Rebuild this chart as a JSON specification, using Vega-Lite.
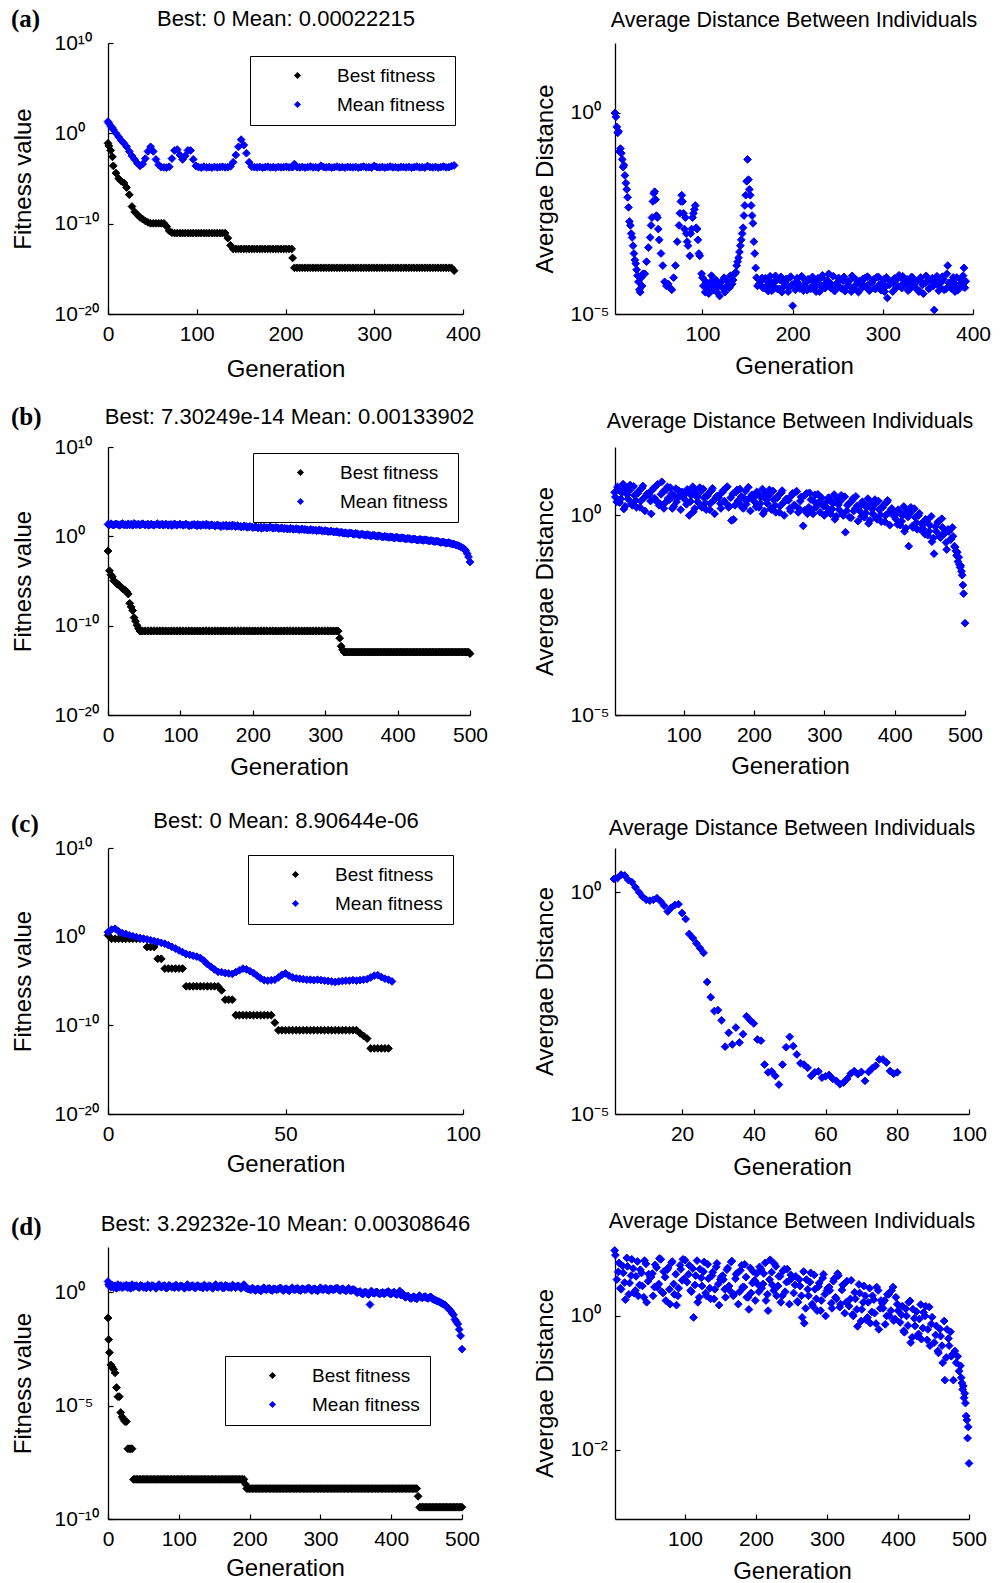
{
"$schema":"https://vega.github.io/schema/vega-lite/v6.json",
"background":"white",
"padding":{"left":11,"top":7,"right":5,"bottom":0},
"columns":2,
"bounds":"flush",
"spacing":{"row":133,"column":145},
"resolve":{"scale":{"color":"independent","stroke":"independent"}},
"datasets":{
"aL":[
{"g":0,"b":7.9e-2,"m":20},{"g":1,"b":4e-2,"m":13},{"g":3,"b":1.3e-2,"m":6.3},{"g":5,"b":2.5e-3,"m":4},{"g":6,"b":2.5e-4,"m":2.5},{"g":9,"b":4e-5,"m":1},{"g":12,"b":1e-5,"m":0.4},{"g":15,"b":5e-6,"m":0.16},{"g":18,"b":3.2e-6,"m":0.079},{"g":21,"b":1e-6,"m":0.032},{"g":24,"b":1.6e-7,"m":0.01},{"g":27,"b":7.9e-9,"m":0.0032},{"g":30,"b":2e-9,"m":0.0013},{"g":33,"b":1e-9,"m":5e-4},{"g":36,"b":5e-10,"m":2.5e-4},{"g":39,"b":3.2e-10,"m":4e-4},{"g":42,"b":2e-10,"m":1.6e-3},{"g":45,"b":1.4e-10,"m":0.01},{"g":48,"b":1.1e-10,"m":0.032},{"g":51,"b":1.1e-10,"m":0.01},{"g":54,"b":1.1e-10,"m":1.3e-3},{"g":57,"b":1.1e-10,"m":3.2e-4},{"g":60,"b":1.1e-10,"m":1.8e-4},{"g":63,"b":1.1e-10,"m":1.7e-4},{"g":66,"b":5e-11,"m":1.6e-4},{"g":69,"b":1.6e-11,"m":2e-4},{"g":72,"b":1e-11,"m":1.6e-3},{"g":75,"b":9e-12,"m":0.0126},{"g":78,"b":9e-12,"m":0.016},{"g":81,"b":9e-12,"m":0.004},{"g":84,"b":9e-12,"m":0.0013},{"g":87,"b":9e-12,"m":0.0032},{"g":90,"b":9e-12,"m":0.0126},{"g":93,"b":9e-12,"m":0.0126},{"g":96,"b":9e-12,"m":1.3e-3},{"g":99,"b":9e-12,"m":2.5e-4},{"g":102,"b":9e-12,"m":1.8e-4},{"g":105,"b":9e-12,"m":1.6e-4},{"g":108,"b":9e-12,"m":2e-4},{"g":111,"b":9e-12,"m":1.7e-4},{"g":114,"b":9e-12,"m":1.8e-4},{"g":117,"b":9e-12,"m":1.6e-4},{"g":120,"b":9e-12,"m":1.9e-4},{"g":123,"b":9e-12,"m":1.7e-4},{"g":126,"b":9e-12,"m":1.8e-4},{"g":129,"b":9e-12,"m":2e-4},{"g":132,"b":9e-12,"m":1.7e-4},{"g":135,"b":2.5e-12,"m":1.8e-4},{"g":138,"b":4e-13,"m":2.2e-4},{"g":141,"b":1.6e-13,"m":6.3e-4},{"g":144,"b":1.6e-13,"m":4e-3},{"g":147,"b":1.6e-13,"m":0.032},{"g":150,"b":1.6e-13,"m":0.2},{"g":153,"b":1.6e-13,"m":0.05},{"g":156,"b":1.6e-13,"m":0.0063},{"g":159,"b":1.6e-13,"m":6.3e-4},{"g":162,"b":1.6e-13,"m":2e-4},{"g":165,"b":1.6e-13,"m":1.8e-4},{"g":168,"b":1.6e-13,"m":1.7e-4},{"g":171,"b":1.6e-13,"m":1.9e-4},{"g":174,"b":1.6e-13,"m":1.6e-4},{"g":177,"b":1.6e-13,"m":1.8e-4},{"g":180,"b":1.6e-13,"m":2e-4},{"g":183,"b":1.6e-13,"m":1.7e-4},{"g":186,"b":1.6e-13,"m":1.8e-4},{"g":189,"b":1.6e-13,"m":1.6e-4},{"g":192,"b":1.6e-13,"m":1.9e-4},{"g":195,"b":1.6e-13,"m":1.7e-4},{"g":198,"b":1.6e-13,"m":1.8e-4},{"g":201,"b":1.6e-13,"m":2e-4},{"g":204,"b":1.6e-13,"m":1.7e-4},{"g":207,"b":1.6e-13,"m":1.8e-4},{"g":208,"b":1.6e-14,"m":1.8e-4},{"g":210,"b":1.3e-15,"m":4e-4},{"g":213,"b":1.3e-15,"m":1.8e-4},{"g":216,"b":1.3e-15,"m":1.7e-4},{"g":219,"b":1.3e-15,"m":1.9e-4},{"g":222,"b":1.3e-15,"m":1.6e-4},{"g":225,"b":1.3e-15,"m":1.8e-4},{"g":228,"b":1.3e-15,"m":2.1e-4},{"g":231,"b":1.3e-15,"m":1.7e-4},{"g":234,"b":1.3e-15,"m":1.8e-4},{"g":237,"b":1.3e-15,"m":1.6e-4},{"g":240,"b":1.3e-15,"m":2.6e-4},{"g":243,"b":1.3e-15,"m":1.8e-4},{"g":246,"b":1.3e-15,"m":1.7e-4},{"g":249,"b":1.3e-15,"m":1.9e-4},{"g":252,"b":1.3e-15,"m":1.6e-4},{"g":255,"b":1.3e-15,"m":1.8e-4},{"g":258,"b":1.3e-15,"m":2.1e-4},{"g":261,"b":1.3e-15,"m":1.7e-4},{"g":264,"b":1.3e-15,"m":1.8e-4},{"g":267,"b":1.3e-15,"m":1.6e-4},{"g":270,"b":1.3e-15,"m":1.9e-4},{"g":273,"b":1.3e-15,"m":1.8e-4},{"g":276,"b":1.3e-15,"m":1.7e-4},{"g":279,"b":1.3e-15,"m":1.9e-4},{"g":282,"b":1.3e-15,"m":1.6e-4},{"g":285,"b":1.3e-15,"m":1.8e-4},{"g":288,"b":1.3e-15,"m":2.1e-4},{"g":291,"b":1.3e-15,"m":1.7e-4},{"g":294,"b":1.3e-15,"m":1.8e-4},{"g":297,"b":1.3e-15,"m":1.6e-4},{"g":300,"b":1.3e-15,"m":2.5e-4},{"g":303,"b":1.3e-15,"m":1.8e-4},{"g":306,"b":1.3e-15,"m":1.7e-4},{"g":309,"b":1.3e-15,"m":1.9e-4},{"g":312,"b":1.3e-15,"m":1.6e-4},{"g":315,"b":1.3e-15,"m":1.8e-4},{"g":318,"b":1.3e-15,"m":2.1e-4},{"g":321,"b":1.3e-15,"m":1.7e-4},{"g":324,"b":1.3e-15,"m":1.8e-4},{"g":327,"b":1.3e-15,"m":1.6e-4},{"g":330,"b":1.3e-15,"m":1.9e-4},{"g":333,"b":1.3e-15,"m":1.8e-4},{"g":336,"b":1.3e-15,"m":1.7e-4},{"g":339,"b":1.3e-15,"m":1.9e-4},{"g":342,"b":1.3e-15,"m":1.6e-4},{"g":345,"b":1.3e-15,"m":1.8e-4},{"g":348,"b":1.3e-15,"m":2.1e-4},{"g":351,"b":1.3e-15,"m":1.7e-4},{"g":354,"b":1.3e-15,"m":1.8e-4},{"g":357,"b":1.3e-15,"m":1.6e-4},{"g":360,"b":1.3e-15,"m":2.4e-4},{"g":363,"b":1.3e-15,"m":1.8e-4},{"g":366,"b":1.3e-15,"m":1.7e-4},{"g":369,"b":1.3e-15,"m":1.9e-4},{"g":372,"b":1.3e-15,"m":1.6e-4},{"g":375,"b":1.3e-15,"m":1.8e-4},{"g":378,"b":1.3e-15,"m":2.1e-4},{"g":381,"b":1.3e-15,"m":1.7e-4},{"g":384,"b":1.3e-15,"m":1.8e-4},{"g":387,"b":1.3e-15,"m":2.3e-4},{"g":390,"b":6.3e-16,"m":2.8e-4}
],
"aR":[
{"g":3,"v":1.0},{"g":4,"v":0.8},{"g":5,"v":0.45},{"g":6,"v":0.32},{"g":7,"v":0.35},{"g":8,"v":0.11},{"g":9,"v":0.13},{"g":10,"v":0.1},{"g":11,"v":0.07},{"g":12,"v":0.045},{"g":13,"v":0.05},{"g":14,"v":0.028},{"g":15,"v":0.018},{"g":16,"v":0.0126},{"g":17,"v":0.008},{"g":18,"v":0.0045},{"g":19,"v":0.002},{"g":20,"v":0.0016},{"g":21,"v":0.001},{"g":22,"v":8e-4},{"g":23,"v":5e-4},{"g":24,"v":3.2e-4},{"g":25,"v":2.2e-4},{"g":26,"v":1.8e-4},{"g":27,"v":1.26e-4},{"g":28,"v":9e-5},{"g":29,"v":6.3e-5},{"g":30,"v":4e-5},{"g":31,"v":3.5e-5},{"g":32,"v":8e-5},{"g":33,"v":5e-5},{"g":34,"v":1e-4},{"g":36,"v":1e-4},{"g":38,"v":2e-4},{"g":40,"v":4.5e-4},{"g":42,"v":8e-4},{"g":43,"v":1.6e-3},{"g":44,"v":2.5e-3},{"g":45,"v":6.3e-3},{"g":46,"v":0.01},{"g":47,"v":0.011},{"g":48,"v":0.007},{"g":49,"v":0.0028},{"g":50,"v":0.0025},{"g":51,"v":0.0013},{"g":52,"v":7e-4},{"g":54,"v":3.2e-4},{"g":56,"v":1.6e-4},{"g":58,"v":6.3e-5},{"g":60,"v":5e-5},{"g":62,"v":5.6e-5},{"g":64,"v":4.5e-5},{"g":66,"v":4e-5},{"g":68,"v":8e-5},{"g":70,"v":1.6e-4},{"g":72,"v":6.3e-4},{"g":74,"v":1.6e-3},{"g":75,"v":3.2e-3},{"g":76,"v":6.3e-3},{"g":77,"v":0.009},{"g":78,"v":0.0063},{"g":79,"v":0.0032},{"g":80,"v":0.0013},{"g":81,"v":0.0025},{"g":82,"v":0.001},{"g":83,"v":6.3e-4},{"g":84,"v":5e-4},{"g":86,"v":2.8e-4},{"g":87,"v":0.001},{"g":88,"v":0.0013},{"g":89,"v":0.0025},{"g":90,"v":0.0032},{"g":91,"v":0.004},{"g":92,"v":0.005},{"g":93,"v":0.0014},{"g":94,"v":0.0013},{"g":95,"v":7e-4},{"g":96,"v":3.2e-4},{"g":97,"v":2.8e-4},{"g":99,"v":1e-4},{"g":100,"v":8e-5},{"g":101,"v":5e-5},{"g":103,"v":3.5e-5},{"g":104,"v":6.3e-5},{"g":106,"v":4.5e-5},{"g":107,"v":3.2e-5},{"g":109,"v":6.3e-5},{"g":110,"v":9e-5},{"g":112,"v":4e-5},{"g":113,"v":5e-5},{"g":115,"v":7e-5},{"g":116,"v":3.5e-5},{"g":118,"v":5e-5},{"g":119,"v":2.8e-5},{"g":121,"v":6.3e-5},{"g":122,"v":4.5e-5},{"g":124,"v":8e-5},{"g":125,"v":3.5e-5},{"g":127,"v":5e-5},{"g":128,"v":6.3e-5},{"g":130,"v":4.5e-5},{"g":131,"v":9e-5},{"g":133,"v":5.6e-5},{"g":134,"v":7e-5},{"g":136,"v":1e-4},{"g":137,"v":1.1e-4},{"g":138,"v":1.6e-4},{"g":139,"v":2e-4},{"g":140,"v":2.5e-4},{"g":141,"v":3.5e-4},{"g":142,"v":5e-4},{"g":143,"v":7e-4},{"g":144,"v":0.001},{"g":145,"v":0.0014},{"g":146,"v":0.0028},{"g":147,"v":0.005},{"g":148,"v":0.009},{"g":149,"v":0.02},{"g":150,"v":0.07},{"g":151,"v":0.022},{"g":152,"v":0.0126},{"g":153,"v":0.009},{"g":154,"v":0.005},{"g":155,"v":0.0028},{"g":156,"v":0.0018},{"g":157,"v":6.3e-4},{"g":158,"v":3.2e-4},{"g":159,"v":1.4e-4},{"g":160,"v":8e-5},{"g":161,"v":5e-5},
{"g":163,"v":5.6e-5},{"g":166,"v":7.9e-5},{"g":168,"v":4.5e-5},{"g":171,"v":6.7e-5},{"g":173,"v":3.7e-5},{"g":176,"v":6.3e-5},{"g":178,"v":5e-5},{"g":181,"v":8.9e-5},{"g":183,"v":4.2e-5},{"g":186,"v":7e-5},{"g":188,"v":3.5e-5},{"g":191,"v":5.9e-5},{"g":193,"v":7.5e-5},{"g":196,"v":4.7e-5},{"g":198,"v":8.5e-5},{"g":200,"v":1.6e-5},{"g":203,"v":4e-5},{"g":206,"v":6e-5},{"g":208,"v":4.3e-5},{"g":211,"v":8.1e-5},{"g":213,"v":5.3e-5},{"g":216,"v":3.9e-5},{"g":218,"v":7.2e-5},{"g":221,"v":4.8e-5},{"g":223,"v":6.5e-5},{"g":226,"v":3.6e-5},{"g":228,"v":7.7e-5},{"g":231,"v":5.1e-5},{"g":233,"v":9.2e-5},{"g":236,"v":4.4e-5},{"g":238,"v":6.9e-5},{"g":240,"v":1e-4},{"g":243,"v":5.5e-5},{"g":246,"v":3.8e-5},{"g":248,"v":5.6e-5},{"g":251,"v":7.9e-5},{"g":253,"v":4.5e-5},{"g":256,"v":6.7e-5},{"g":258,"v":3.7e-5},{"g":261,"v":6.3e-5},{"g":263,"v":5e-5},{"g":266,"v":8.9e-5},{"g":268,"v":4.2e-5},{"g":271,"v":7e-5},{"g":273,"v":3.5e-5},{"g":276,"v":5.9e-5},{"g":278,"v":7.5e-5},{"g":281,"v":4.7e-5},{"g":283,"v":8.5e-5},{"g":286,"v":4e-5},{"g":288,"v":6e-5},{"g":291,"v":4.3e-5},{"g":293,"v":8.1e-5},{"g":296,"v":5.3e-5},{"g":298,"v":3.9e-5},{"g":301,"v":7.2e-5},{"g":303,"v":4.8e-5},{"g":305,"v":2.5e-5},{"g":308,"v":6.5e-5},{"g":311,"v":3.6e-5},{"g":313,"v":7.7e-5},{"g":316,"v":5.1e-5},{"g":318,"v":9.2e-5},{"g":321,"v":4.4e-5},{"g":323,"v":6.9e-5},{"g":326,"v":5.5e-5},{"g":328,"v":3.8e-5},{"g":331,"v":5.6e-5},{"g":333,"v":7.9e-5},{"g":336,"v":4.5e-5},{"g":338,"v":6.7e-5},{"g":341,"v":3.7e-5},{"g":343,"v":6.3e-5},{"g":345,"v":3.2e-5},{"g":348,"v":8.9e-5},{"g":351,"v":4.2e-5},{"g":353,"v":7e-5},{"g":357,"v":1.26e-5},{"g":358,"v":5.9e-5},{"g":361,"v":7.5e-5},{"g":363,"v":4.7e-5},{"g":366,"v":8.5e-5},{"g":368,"v":4e-5},{"g":372,"v":1.6e-4},{"g":373,"v":6e-5},{"g":376,"v":4.3e-5},{"g":378,"v":8.1e-5},{"g":381,"v":5.3e-5},{"g":383,"v":3.9e-5},{"g":386,"v":7.2e-5},{"g":388,"v":4.8e-5},{"g":390,"v":1.4e-4},{"g":392,"v":6.5e-5},
{"g":165,"v":6.7e-5},{"g":167,"v":4.5e-5},{"g":170,"v":7.8e-5},{"g":172,"v":5e-5},{"g":175,"v":8.7e-5},{"g":177,"v":3.8e-5},{"g":180,"v":6.2e-5},{"g":182,"v":7.3e-5},{"g":185,"v":4.2e-5},{"g":187,"v":8.4e-5},{"g":190,"v":4.8e-5},{"g":192,"v":6.4e-5},{"g":195,"v":3.6e-5},{"g":197,"v":8.1e-5},{"g":199,"v":5.3e-5},{"g":202,"v":5.9e-5},{"g":205,"v":7.8e-5},{"g":207,"v":5e-5},{"g":210,"v":8.7e-5},{"g":212,"v":3.8e-5},{"g":215,"v":6.2e-5},{"g":217,"v":7.3e-5},{"g":220,"v":4.2e-5},{"g":222,"v":8.4e-5},{"g":225,"v":4.8e-5},{"g":227,"v":6.4e-5},{"g":230,"v":3.6e-5},{"g":232,"v":8.1e-5},{"g":235,"v":5.3e-5},{"g":237,"v":5.9e-5},{"g":239,"v":6.7e-5},{"g":242,"v":4.5e-5},{"g":245,"v":8.7e-5},{"g":247,"v":3.8e-5},{"g":250,"v":6.2e-5},{"g":252,"v":7.3e-5},{"g":255,"v":4.2e-5},{"g":257,"v":8.4e-5},{"g":260,"v":4.8e-5},{"g":262,"v":6.4e-5},{"g":265,"v":3.6e-5},{"g":267,"v":8.1e-5},{"g":270,"v":5.3e-5},{"g":272,"v":5.9e-5},{"g":275,"v":6.7e-5},{"g":277,"v":4.5e-5},{"g":280,"v":7.8e-5},{"g":282,"v":5e-5},{"g":285,"v":3.8e-5},{"g":287,"v":6.2e-5},{"g":290,"v":7.3e-5},{"g":292,"v":4.2e-5},{"g":295,"v":8.4e-5},{"g":297,"v":4.8e-5},{"g":300,"v":6.4e-5},{"g":302,"v":3.6e-5},{"g":304,"v":8.1e-5},{"g":307,"v":5.3e-5},{"g":310,"v":5.9e-5},{"g":312,"v":6.7e-5},{"g":315,"v":4.5e-5},{"g":317,"v":7.8e-5},{"g":320,"v":5e-5},{"g":322,"v":8.7e-5},{"g":325,"v":6.2e-5},{"g":327,"v":7.3e-5},{"g":330,"v":4.2e-5},{"g":332,"v":8.4e-5},{"g":335,"v":4.8e-5},{"g":337,"v":6.4e-5},{"g":340,"v":3.6e-5},{"g":342,"v":8.1e-5},{"g":344,"v":5.3e-5},{"g":347,"v":5.9e-5},{"g":350,"v":6.7e-5},{"g":352,"v":4.5e-5},{"g":355,"v":7.8e-5},{"g":356,"v":5e-5},{"g":360,"v":8.7e-5},{"g":362,"v":3.8e-5},{"g":365,"v":6.2e-5},{"g":367,"v":7.3e-5},{"g":370,"v":4.2e-5},{"g":371,"v":1e-4},{"g":375,"v":4.8e-5},{"g":377,"v":6.4e-5},{"g":380,"v":3.6e-5},{"g":382,"v":8.1e-5},{"g":385,"v":5.3e-5},{"g":387,"v":5.9e-5},{"g":389,"v":9e-5},{"g":391,"v":4.5e-5}
],
"bL":[
{"g":0,"b":0.023,"m":22},{"g":2,"b":1.4e-4,"m":19},{"g":4,"b":5e-5,"m":26},{"g":6,"b":3e-5,"m":20},{"g":8,"b":1.1e-5,"m":18},{"g":10,"b":8e-6,"m":23},{"g":12,"b":5e-6,"m":24},{"g":14,"b":4e-6,"m":20},{"g":16,"b":3.2e-6,"m":17},{"g":18,"b":2e-6,"m":22},{"g":20,"b":1.4e-6,"m":27},{"g":22,"b":1.1e-6,"m":19},{"g":24,"b":9e-7,"m":21},{"g":26,"b":6e-7,"m":18},{"g":28,"b":3.5e-7,"m":25},{"g":30,"b":3.2e-8,"m":19},{"g":32,"b":1.26e-8,"m":23},{"g":34,"b":5e-9,"m":17},{"g":36,"b":8e-10,"m":28},{"g":38,"b":3.2e-10,"m":21},{"g":40,"b":1.1e-10,"m":20},{"g":42,"b":5e-11,"m":24},{"g":44,"b":2.5e-11,"m":18},{"g":46,"b":2.5e-11,"m":22},{"g":48,"b":2.5e-11,"m":26},{"g":51,"b":2.5e-11,"m":19},{"g":52,"b":2.5e-11,"m":20},{"g":55,"b":2.5e-11,"m":24},{"g":56,"b":2.5e-11,"m":17},{"g":59,"b":2.5e-11,"m":21},{"g":60,"b":2.5e-11,"m":23},{"g":63,"b":2.5e-11,"m":17},{"g":64,"b":2.5e-11,"m":19},{"g":67,"b":2.5e-11,"m":22},{"g":68,"b":2.5e-11,"m":27},{"g":71,"b":2.5e-11,"m":18},{"g":72,"b":2.5e-11,"m":21},{"g":75,"b":2.5e-11,"m":24},{"g":76,"b":2.5e-11,"m":18},{"g":79,"b":2.5e-11,"m":20},{"g":80,"b":2.5e-11,"m":24},{"g":83,"b":2.5e-11,"m":17},{"g":84,"b":2.5e-11,"m":20},{"g":87,"b":2.5e-11,"m":22},{"g":88,"b":2.5e-11,"m":16},{"g":91,"b":2.5e-11,"m":20},{"g":92,"b":2.5e-11,"m":25},{"g":95,"b":2.5e-11,"m":17},{"g":96,"b":2.5e-11,"m":19},{"g":99,"b":2.5e-11,"m":23},{"g":100,"b":2.5e-11,"m":21},{"g":103,"b":2.5e-11,"m":19},{"g":104,"b":2.5e-11,"m":17},{"g":107,"b":2.5e-11,"m":21},{"g":108,"b":2.5e-11,"m":23},{"g":111,"b":2.5e-11,"m":18},{"g":112,"b":2.5e-11,"m":15},{"g":115,"b":2.5e-11,"m":17},{"g":116,"b":2.5e-11,"m":20},{"g":119,"b":2.5e-11,"m":22},{"g":120,"b":2.5e-11,"m":18},{"g":123,"b":2.5e-11,"m":15},{"g":124,"b":2.5e-11,"m":22},{"g":127,"b":2.5e-11,"m":19},{"g":128,"b":2.5e-11,"m":16},{"g":131,"b":2.5e-11,"m":21},{"g":132,"b":2.5e-11,"m":19},{"g":135,"b":2.5e-11,"m":17},{"g":136,"b":2.5e-11,"m":24},{"g":139,"b":2.5e-11,"m":18},{"g":140,"b":2.5e-11,"m":15},{"g":143,"b":2.5e-11,"m":20},{"g":144,"b":2.5e-11,"m":18},{"g":147,"b":2.5e-11,"m":16},{"g":148,"b":2.5e-11,"m":14},{"g":151,"b":2.5e-11,"m":19},{"g":152,"b":2.5e-11,"m":17},{"g":155,"b":2.5e-11,"m":15},{"g":156,"b":2.5e-11,"m":12},{"g":159,"b":2.5e-11,"m":17},{"g":160,"b":2.5e-11,"m":15},{"g":163,"b":2.5e-11,"m":18},{"g":164,"b":2.5e-11,"m":13},{"g":167,"b":2.5e-11,"m":14},{"g":168,"b":2.5e-11,"m":16},{"g":171,"b":2.5e-11,"m":13},{"g":172,"b":2.5e-11,"m":19},{"g":175,"b":2.5e-11,"m":15},{"g":176,"b":2.5e-11,"m":12},{"g":179,"b":2.5e-11,"m":16},{"g":180,"b":2.5e-11,"m":14},{"g":183,"b":2.5e-11,"m":13},{"g":184,"b":2.5e-11,"m":11},{"g":187,"b":2.5e-11,"m":12},{"g":188,"b":2.5e-11,"m":15},{"g":191,"b":2.5e-11,"m":13},{"g":192,"b":2.5e-11,"m":10},{"g":195,"b":2.5e-11,"m":11},{"g":196,"b":2.5e-11,"m":13},{"g":199,"b":2.5e-11,"m":11},{"g":200,"b":2.5e-11,"m":9.5},{"g":203,"b":2.5e-11,"m":10.5},{"g":204,"b":2.5e-11,"m":12},{"g":207,"b":2.5e-11,"m":9},{"g":208,"b":2.5e-11,"m":10},{"g":211,"b":2.5e-11,"m":11},{"g":212,"b":2.5e-11,"m":8},{"g":215,"b":2.5e-11,"m":9.5},{"g":216,"b":2.5e-11,"m":11},{"g":219,"b":2.5e-11,"m":8.5},{"g":220,"b":2.5e-11,"m":9},{"g":223,"b":2.5e-11,"m":10},{"g":224,"b":2.5e-11,"m":12},{"g":227,"b":2.5e-11,"m":9},{"g":228,"b":2.5e-11,"m":8},{"g":231,"b":2.5e-11,"m":9},{"g":232,"b":2.5e-11,"m":10},{"g":235,"b":2.5e-11,"m":8.5},{"g":236,"b":2.5e-11,"m":7.5},{"g":239,"b":2.5e-11,"m":8},{"g":240,"b":2.5e-11,"m":9},{"g":243,"b":2.5e-11,"m":7},{"g":244,"b":2.5e-11,"m":8},{"g":247,"b":2.5e-11,"m":7.5},{"g":248,"b":2.5e-11,"m":6.5},{"g":251,"b":2.5e-11,"m":7},{"g":252,"b":2.5e-11,"m":8},{"g":255,"b":2.5e-11,"m":7},{"g":256,"b":2.5e-11,"m":6},{"g":259,"b":2.5e-11,"m":6.5},{"g":260,"b":2.5e-11,"m":7.5},{"g":263,"b":2.5e-11,"m":6.5},{"g":264,"b":2.5e-11,"m":5.5},{"g":267,"b":2.5e-11,"m":6},{"g":268,"b":2.5e-11,"m":7},{"g":271,"b":2.5e-11,"m":5.5},{"g":272,"b":2.5e-11,"m":6},{"g":275,"b":2.5e-11,"m":5.2},{"g":276,"b":2.5e-11,"m":4.8},{"g":279,"b":2.5e-11,"m":5.3},{"g":280,"b":2.5e-11,"m":6},{"g":283,"b":2.5e-11,"m":4.6},{"g":284,"b":2.5e-11,"m":5},{"g":287,"b":2.5e-11,"m":5},{"g":288,"b":2.5e-11,"m":4.2},{"g":291,"b":2.5e-11,"m":4.6},{"g":292,"b":2.5e-11,"m":5.2},{"g":295,"b":2.5e-11,"m":4.5},{"g":296,"b":2.5e-11,"m":4},{"g":299,"b":2.5e-11,"m":3.8},{"g":300,"b":2.5e-11,"m":4.5},{"g":303,"b":2.5e-11,"m":3.8},{"g":304,"b":2.5e-11,"m":3.4},{"g":307,"b":2.5e-11,"m":3.5},{"g":308,"b":2.5e-11,"m":4},{"g":311,"b":2.5e-11,"m":3.3},{"g":312,"b":2.5e-11,"m":3},{"g":315,"b":2.5e-11,"m":3.1},{"g":316,"b":2.5e-11,"m":3.5},{"g":318,"b":2.5e-11,"m":2.8},{"g":320,"b":4e-12,"m":2.6},{"g":322,"b":5e-13,"m":3},{"g":324,"b":2e-13,"m":2.4},{"g":326,"b":1.1e-13,"m":2.2},{"g":328,"b":1.1e-13,"m":2.6},{"g":330,"b":1.1e-13,"m":2.1},{"g":332,"b":1.1e-13,"m":2},{"g":334,"b":1.1e-13,"m":2.4},{"g":336,"b":1.1e-13,"m":2.3},{"g":338,"b":1.1e-13,"m":1.9},{"g":340,"b":1.1e-13,"m":1.7},{"g":342,"b":1.1e-13,"m":2.1},{"g":344,"b":1.1e-13,"m":2},{"g":346,"b":1.1e-13,"m":1.6},{"g":348,"b":1.1e-13,"m":1.5},{"g":350,"b":1.1e-13,"m":1.8},{"g":352,"b":1.1e-13,"m":1.7},{"g":354,"b":1.1e-13,"m":1.4},{"g":356,"b":1.1e-13,"m":1.3},{"g":358,"b":1.1e-13,"m":1.6},{"g":360,"b":1.1e-13,"m":1.5},{"g":362,"b":1.1e-13,"m":1.2},{"g":364,"b":1.1e-13,"m":1.1},{"g":366,"b":1.1e-13,"m":1.35},{"g":368,"b":1.1e-13,"m":1.3},{"g":370,"b":1.1e-13,"m":1.05},{"g":372,"b":1.1e-13,"m":1.0},{"g":374,"b":1.1e-13,"m":1.2},{"g":376,"b":1.1e-13,"m":1.1},{"g":378,"b":1.1e-13,"m":0.9},{"g":380,"b":1.1e-13,"m":0.85},{"g":382,"b":1.1e-13,"m":1.0},{"g":384,"b":1.1e-13,"m":0.95},{"g":386,"b":1.1e-13,"m":0.8},{"g":388,"b":1.1e-13,"m":0.75},{"g":390,"b":1.1e-13,"m":0.9},{"g":392,"b":1.1e-13,"m":0.85},{"g":394,"b":1.1e-13,"m":0.7},{"g":396,"b":1.1e-13,"m":0.65},{"g":398,"b":1.1e-13,"m":0.8},{"g":400,"b":1.1e-13,"m":0.75},{"g":402,"b":1.1e-13,"m":0.62},{"g":404,"b":1.1e-13,"m":0.6},{"g":406,"b":1.1e-13,"m":0.7},{"g":408,"b":1.1e-13,"m":0.68},{"g":410,"b":1.1e-13,"m":0.55},{"g":412,"b":1.1e-13,"m":0.5},{"g":414,"b":1.1e-13,"m":0.6},{"g":416,"b":1.1e-13,"m":0.58},{"g":418,"b":1.1e-13,"m":0.47},{"g":420,"b":1.1e-13,"m":0.45},{"g":422,"b":1.1e-13,"m":0.52},{"g":424,"b":1.1e-13,"m":0.5},{"g":426,"b":1.1e-13,"m":0.4},{"g":428,"b":1.1e-13,"m":0.38},{"g":430,"b":1.1e-13,"m":0.46},{"g":432,"b":1.1e-13,"m":0.44},{"g":434,"b":1.1e-13,"m":0.37},{"g":436,"b":1.1e-13,"m":0.36},{"g":438,"b":1.1e-13,"m":0.42},{"g":440,"b":1.1e-13,"m":0.4},{"g":442,"b":1.1e-13,"m":0.33},{"g":444,"b":1.1e-13,"m":0.3},{"g":446,"b":1.1e-13,"m":0.35},{"g":448,"b":1.1e-13,"m":0.32},{"g":450,"b":1.1e-13,"m":0.27},{"g":452,"b":1.1e-13,"m":0.26},{"g":454,"b":1.1e-13,"m":0.3},{"g":456,"b":1.1e-13,"m":0.28},{"g":458,"b":1.1e-13,"m":0.22},{"g":460,"b":1.1e-13,"m":0.2},{"g":462,"b":1.1e-13,"m":0.24},{"g":464,"b":1.1e-13,"m":0.22},{"g":466,"b":1.1e-13,"m":0.18},{"g":468,"b":1.1e-13,"m":0.17},{"g":470,"b":1.1e-13,"m":0.2},{"g":472,"b":1.1e-13,"m":0.18},{"g":474,"b":1.1e-13,"m":0.15},{"g":476,"b":1.1e-13,"m":0.13},{"g":478,"b":1.1e-13,"m":0.14},{"g":480,"b":1.1e-13,"m":0.11},{"g":482,"b":1.1e-13,"m":0.1},{"g":484,"b":1.1e-13,"m":0.09},{"g":486,"b":1.1e-13,"m":0.075},{"g":488,"b":1.1e-13,"m":0.06},{"g":490,"b":1.1e-13,"m":0.05},{"g":492,"b":1.1e-13,"m":0.04},{"g":494,"b":1.1e-13,"m":0.025},{"g":496,"b":1.1e-13,"m":0.012},{"g":498,"b":1.1e-13,"m":0.005},{"g":500,"b":7.3e-14,"m":0.00134}
],
"bR":[
{"g":3,"v":2.9},{"g":6,"v":5.2},{"g":9,"v":2.1},{"g":12,"v":3.7},{"g":15,"v":1.45},{"g":18,"v":4.6},{"g":21,"v":2.6},{"g":24,"v":5.8},{"g":27,"v":1.8},{"g":30,"v":3.2},{"g":33,"v":1.6},{"g":36,"v":4.1},{"g":39,"v":2.3},{"g":42,"v":5.5},{"g":45,"v":1.3},{"g":48,"v":3.5},{"g":51,"v":3.3},{"g":54,"v":1.1},{"g":57,"v":4.8},{"g":60,"v":2.4},{"g":63,"v":6.0},{"g":66,"v":2.0},{"g":69,"v":7.0},{"g":72,"v":1.5},{"g":75,"v":4.4},{"g":78,"v":2.7},{"g":81,"v":5.0},{"g":84,"v":1.5},{"g":87,"v":3.1},{"g":90,"v":2.2},{"g":93,"v":4.2},{"g":96,"v":1.4},{"g":99,"v":3.0},
{"g":102,"v":2.5},{"g":105,"v":4.5},{"g":108,"v":1.0},{"g":111,"v":3.2},{"g":114,"v":1.25},{"g":117,"v":4},{"g":120,"v":2.2},{"g":123,"v":5},{"g":126,"v":1.6},{"g":129,"v":2.8},{"g":132,"v":1.4},{"g":135,"v":3.5},{"g":138,"v":2},{"g":141,"v":4.8},{"g":144,"v":1.1},{"g":147,"v":3},{"g":150,"v":2.8},{"g":153,"v":1.5},{"g":156,"v":4.2},{"g":159,"v":2.1},{"g":162,"v":5.3},{"g":165,"v":1.7},{"g":168,"v":0.75},{"g":171,"v":0.8},{"g":174,"v":3.8},{"g":177,"v":2.3},{"g":180,"v":4.6},{"g":183,"v":1.6},{"g":186,"v":2.7},{"g":189,"v":1.9},{"g":192,"v":5.1},{"g":195,"v":1.3},{"g":198,"v":3.0},
{"g":201,"v":2.2},{"g":204,"v":3.9},{"g":207,"v":1.6},{"g":210,"v":2.8},{"g":213,"v":1.1},{"g":216,"v":3.5},{"g":219,"v":2},{"g":222,"v":4.4},{"g":225,"v":1.4},{"g":228,"v":2.5},{"g":231,"v":1.2},{"g":234,"v":3.1},{"g":237,"v":1.7},{"g":240,"v":4.2},{"g":243,"v":1},{"g":246,"v":2.6},{"g":249,"v":2.4},{"g":252,"v":1.3},{"g":255,"v":3.6},{"g":258,"v":1.8},{"g":261,"v":4.0},{"g":264,"v":1.5},{"g":267,"v":2.9},{"g":270,"v":0.55},{"g":273,"v":3.3},{"g":276,"v":1.1},{"g":279,"v":3.7},{"g":282,"v":1.4},{"g":285,"v":2.3},{"g":288,"v":1.6},{"g":291,"v":3.4},{"g":294,"v":1.2},{"g":297,"v":2.0},{"g":300,"v":1.0},
{"g":303,"v":1.6},{"g":306,"v":2.8},{"g":309,"v":1.1},{"g":312,"v":2},{"g":315,"v":0.8},{"g":318,"v":2.5},{"g":321,"v":1.4},{"g":324,"v":3.2},{"g":327,"v":1.0},{"g":330,"v":0.38},{"g":333,"v":1.8},{"g":336,"v":0.9},{"g":339,"v":2.3},{"g":342,"v":1.3},{"g":345,"v":3.0},{"g":348,"v":0.72},
{"g":351,"v":1.26},{"g":354,"v":2.2},{"g":357,"v":0.9},{"g":360,"v":1.6},{"g":363,"v":0.63},{"g":366,"v":2.0},{"g":369,"v":1.1},{"g":372,"v":2.5},{"g":375,"v":0.8},{"g":378,"v":1.4},{"g":381,"v":0.7},{"g":384,"v":1.8},{"g":387,"v":1.0},{"g":390,"v":2.4},{"g":393,"v":0.57},{"g":396,"v":1.5},{"g":399,"v":0.95},
{"g":402,"v":0.8},{"g":405,"v":1.4},{"g":408,"v":0.57},{"g":411,"v":1.0},{"g":414,"v":0.4},{"g":417,"v":1.26},{"g":420,"v":0.17},{"g":423,"v":1.6},{"g":426,"v":0.5},{"g":429,"v":0.9},{"g":432,"v":0.45},{"g":435,"v":1.13},{"g":438,"v":0.63},
{"g":441,"v":0.45},{"g":444,"v":0.8},{"g":447,"v":0.32},{"g":450,"v":0.57},{"g":453,"v":0.22},{"g":456,"v":0.11},{"g":459,"v":0.4},{"g":462,"v":0.71},{"g":465,"v":0.28},{"g":468,"v":0.5},{"g":471,"v":0.35},{"g":474,"v":0.14},{"g":477,"v":0.4},{"g":480,"v":0.25},{"g":483,"v":0.3},{"g":486,"v":0.16},{"g":488,"v":0.1},{"g":489,"v":0.12},{"g":490,"v":0.07},{"g":491,"v":0.09},{"g":492,"v":0.06},{"g":493,"v":0.05},{"g":494,"v":0.055},{"g":495,"v":0.04},{"g":496,"v":0.032},{"g":497,"v":0.018},{"g":498,"v":0.011},{"g":500,"v":0.002},
{"g":2,"v":3.8},{"g":5,"v":2.2},{"g":8,"v":4.6},{"g":11,"v":2.6},{"g":14,"v":6.1},{"g":17,"v":1.7},{"g":20,"v":3.3},{"g":23,"v":4.2},{"g":26,"v":2.0},{"g":29,"v":5.4},{"g":32,"v":2.4},{"g":35,"v":3.6},{"g":38,"v":1.6},{"g":41,"v":4.9},{"g":44,"v":2.8},{"g":47,"v":3.2},{"g":50,"v":3.6},{"g":53,"v":2.3},{"g":56,"v":4.4},{"g":59,"v":2.7},{"g":62,"v":5.8},{"g":65,"v":1.8},{"g":68,"v":3.4},{"g":71,"v":4.0},{"g":74,"v":2.1},{"g":77,"v":5.2},{"g":80,"v":2.5},{"g":83,"v":3.5},{"g":86,"v":1.7},{"g":89,"v":4.7},{"g":92,"v":2.9},{"g":95,"v":3.1},{"g":98,"v":3.9},
{"g":101,"v":3.25},{"g":104,"v":1.9},{"g":107,"v":4.0},{"g":110,"v":2.25},{"g":113,"v":5.25},{"g":116,"v":1.5},{"g":119,"v":2.9},{"g":122,"v":3.6},{"g":125,"v":1.7},{"g":128,"v":4.6},{"g":131,"v":2.05},{"g":134,"v":3.1},{"g":137,"v":1.4},{"g":140,"v":4.25},{"g":143,"v":2.4},{"g":146,"v":2.75},{"g":149,"v":3.1},{"g":152,"v":2.0},{"g":155,"v":3.8},{"g":158,"v":2.3},{"g":161,"v":5.0},{"g":164,"v":1.6},{"g":167,"v":2.8},{"g":170,"v":3.5},{"g":173,"v":1.8},{"g":176,"v":4.4},{"g":179,"v":2.1},{"g":182,"v":3.0},{"g":185,"v":1.5},{"g":188,"v":4.1},{"g":191,"v":2.5},{"g":194,"v":2.7},{"g":197,"v":3.3},
{"g":200,"v":2.9},{"g":203,"v":1.65},{"g":206,"v":3.5},{"g":209,"v":2.0},{"g":212,"v":4.6},{"g":215,"v":1.3},{"g":218,"v":2.5},{"g":221,"v":3.2},{"g":224,"v":1.5},{"g":227,"v":4.1},{"g":230,"v":1.8},{"g":233,"v":2.75},{"g":236,"v":1.2},{"g":239,"v":3.7},{"g":242,"v":2.1},{"g":245,"v":2.4},{"g":248,"v":2.6},{"g":251,"v":1.5},{"g":254,"v":3.2},{"g":257,"v":1.8},{"g":260,"v":4.0},{"g":263,"v":1.2},{"g":266,"v":2.3},{"g":269,"v":2.9},{"g":272,"v":1.35},{"g":275,"v":3.6},{"g":278,"v":1.6},{"g":281,"v":2.5},{"g":284,"v":1.1},{"g":287,"v":3.3},{"g":290,"v":1.9},{"g":293,"v":2.2},{"g":296,"v":2.8},{"g":299,"v":1.7},
{"g":302,"v":2.1},{"g":305,"v":1.2},{"g":308,"v":2.55},{"g":311,"v":1.45},{"g":314,"v":3.35},{"g":317,"v":0.95},{"g":320,"v":1.85},{"g":323,"v":2.3},{"g":326,"v":1.1},{"g":329,"v":2.95},{"g":332,"v":1.3},{"g":335,"v":2.0},{"g":338,"v":0.88},{"g":341,"v":2.7},{"g":344,"v":1.5},{"g":347,"v":1.75},
{"g":350,"v":1.65},{"g":353,"v":0.95},{"g":356,"v":2.0},{"g":359,"v":1.15},{"g":362,"v":2.65},{"g":365,"v":0.75},{"g":368,"v":1.45},{"g":371,"v":1.8},{"g":374,"v":0.86},{"g":377,"v":2.3},{"g":380,"v":1.03},{"g":383,"v":1.6},{"g":386,"v":0.7},{"g":389,"v":2.15},{"g":392,"v":1.2},{"g":395,"v":1.4},{"g":398,"v":1.1},
{"g":401,"v":1.04},{"g":404,"v":0.6},{"g":407,"v":1.28},{"g":410,"v":0.72},{"g":413,"v":1.68},{"g":416,"v":0.48},{"g":419,"v":0.92},{"g":422,"v":1.16},{"g":425,"v":0.54},{"g":428,"v":1.48},{"g":431,"v":0.66},{"g":434,"v":1.0},{"g":437,"v":0.44},
{"g":440,"v":0.58},{"g":443,"v":0.34},{"g":446,"v":0.72},{"g":449,"v":0.4},{"g":452,"v":0.95},{"g":455,"v":0.27},{"g":458,"v":0.52},{"g":461,"v":0.65},{"g":464,"v":0.31},{"g":467,"v":0.83},{"g":470,"v":0.36},{"g":473,"v":0.21},{"g":476,"v":0.45},{"g":479,"v":0.25},{"g":482,"v":0.5},{"g":485,"v":0.17},{"g":487,"v":0.13}
],
"cL":[
{"g":0,"b":1.4,"m":3.2},{"g":1,"b":0.58,"m":6.3},{"g":2,"b":0.58,"m":7.9},{"g":3,"b":0.58,"m":4},{"g":4,"b":0.58,"m":2.5},{"g":5,"b":0.58,"m":2},{"g":6,"b":0.58,"m":1.4},{"g":7,"b":0.58,"m":1.12},{"g":8,"b":0.58,"m":0.89},{"g":9,"b":0.58,"m":0.71},{"g":10,"b":0.58,"m":0.56},{"g":11,"b":0.068,"m":0.5},{"g":12,"b":0.068,"m":0.4},{"g":13,"b":0.068,"m":0.32},{"g":14,"b":0.0032,"m":0.26},{"g":15,"b":0.0032,"m":0.2},{"g":16,"b":2.5e-4,"m":0.16},{"g":17,"b":2.5e-4,"m":0.11},{"g":18,"b":2.5e-4,"m":0.071},{"g":19,"b":2.5e-4,"m":0.045},{"g":20,"b":2.5e-4,"m":0.028},{"g":21,"b":2.5e-4,"m":0.018},{"g":22,"b":2.5e-6,"m":0.011},{"g":23,"b":2.5e-6,"m":0.0089},{"g":24,"b":2.5e-6,"m":0.0071},{"g":25,"b":2.5e-6,"m":0.0056},{"g":26,"b":2.5e-6,"m":0.004},{"g":27,"b":2.5e-6,"m":0.002},{"g":28,"b":2.5e-6,"m":7.9e-4},{"g":29,"b":2.5e-6,"m":4e-4},{"g":30,"b":2.5e-6,"m":2e-4},{"g":31,"b":2.5e-6,"m":1.1e-4},{"g":32,"b":8.9e-7,"m":1e-4},{"g":33,"b":7.9e-8,"m":7.9e-5},{"g":34,"b":7.9e-8,"m":7.1e-5},{"g":35,"b":7.9e-8,"m":6.3e-5},{"g":36,"b":1.4e-9,"m":1e-4},{"g":37,"b":1.4e-9,"m":1.6e-4},{"g":38,"b":1.4e-9,"m":2.5e-4},{"g":39,"b":1.4e-9,"m":2e-4},{"g":40,"b":1.4e-9,"m":1.26e-4},{"g":41,"b":1.4e-9,"m":7.9e-5},{"g":42,"b":1.4e-9,"m":4e-5},{"g":43,"b":1.4e-9,"m":2e-5},{"g":44,"b":1.4e-9,"m":1.26e-5},{"g":45,"b":1.4e-9,"m":1.1e-5},{"g":46,"b":1.4e-9,"m":1.26e-5},{"g":47,"b":2e-10,"m":1.4e-5},{"g":48,"b":2.8e-11,"m":2.5e-5},{"g":49,"b":2.8e-11,"m":5e-5},{"g":50,"b":2.8e-11,"m":7.1e-5},{"g":51,"b":2.8e-11,"m":4e-5},{"g":52,"b":2.8e-11,"m":2.5e-5},{"g":53,"b":2.8e-11,"m":2e-5},{"g":54,"b":2.8e-11,"m":1.8e-5},{"g":55,"b":2.8e-11,"m":1.6e-5},{"g":56,"b":2.8e-11,"m":1.4e-5},{"g":57,"b":2.8e-11,"m":1.4e-5},{"g":58,"b":2.8e-11,"m":1.26e-5},{"g":59,"b":2.8e-11,"m":1.4e-5},{"g":60,"b":2.8e-11,"m":1.26e-5},{"g":61,"b":2.8e-11,"m":1.1e-5},{"g":62,"b":2.8e-11,"m":1e-5},{"g":63,"b":2.8e-11,"m":8.9e-6},{"g":64,"b":2.8e-11,"m":7.9e-6},{"g":65,"b":2.8e-11,"m":8.9e-6},{"g":66,"b":2.8e-11,"m":1e-5},{"g":67,"b":2.8e-11,"m":1.1e-5},{"g":68,"b":2.8e-11,"m":1.1e-5},{"g":69,"b":2.8e-11,"m":1.26e-5},{"g":70,"b":2.8e-11,"m":1.1e-5},{"g":71,"b":1.26e-11,"m":1.26e-5},{"g":72,"b":6.3e-12,"m":1.4e-5},{"g":73,"b":3.2e-12,"m":1.6e-5},{"g":74,"b":2.5e-13,"m":2.5e-5},{"g":75,"b":2.5e-13,"m":4e-5},{"g":76,"b":2.5e-13,"m":4.5e-5},{"g":77,"b":2.5e-13,"m":2.8e-5},{"g":78,"b":2.5e-13,"m":1.8e-5},{"g":79,"b":2.5e-13,"m":1.4e-5},{"g":80,"m":8.9e-6}
],
"cR":[
{"g":1,"v":2},{"g":2,"v":2.1},{"g":3,"v":2.5},{"g":4,"v":2.4},{"g":5,"v":1.9},{"g":6,"v":1.7},{"g":7,"v":1.3},{"g":8,"v":1.0},{"g":9,"v":0.79},{"g":10,"v":0.68},{"g":11,"v":0.65},{"g":12,"v":0.68},{"g":13,"v":0.74},{"g":14,"v":0.63},{"g":15,"v":0.5},{"g":16,"v":0.37},{"g":17,"v":0.45},{"g":18,"v":0.52},{"g":19,"v":0.54},{"g":20,"v":0.34},{"g":21,"v":0.25},{"g":22,"v":0.115},{"g":23,"v":0.093},{"g":24,"v":0.071},{"g":25,"v":0.055},{"g":26,"v":0.043},{"g":27,"v":0.0095},{"g":28,"v":0.0043},{"g":29,"v":0.0021},{"g":30,"v":0.0022},{"g":31,"v":0.0013},{"g":32,"v":3.3e-4},{"g":33,"v":6.8e-4},{"g":34,"v":3.7e-4},{"g":35,"v":8.9e-4},{"g":36,"v":4.1e-4},{"g":37,"v":6.3e-4},{"g":38,"v":0.0016},{"g":39,"v":0.0013},{"g":40,"v":0.0011},{"g":41,"v":4.8e-4},{"g":42,"v":4.5e-4},{"g":43,"v":1.3e-4},{"g":44,"v":8.7e-5},{"g":45,"v":9.1e-5},{"g":46,"v":7.2e-5},{"g":47,"v":4.6e-5},{"g":48,"v":1.3e-4},{"g":49,"v":3.2e-4},{"g":50,"v":5.5e-4},{"g":51,"v":3.4e-4},{"g":52,"v":2.2e-4},{"g":53,"v":1.4e-4},{"g":54,"v":1.3e-4},{"g":55,"v":1.1e-4},{"g":56,"v":7.2e-5},{"g":57,"v":8.7e-5},{"g":58,"v":9.1e-5},{"g":59,"v":6.6e-5},{"g":60,"v":7.1e-5},{"g":61,"v":7.6e-5},{"g":62,"v":6.2e-5},{"g":63,"v":5.6e-5},{"g":64,"v":4.7e-5},{"g":65,"v":5.1e-5},{"g":66,"v":6.2e-5},{"g":67,"v":8.1e-5},{"g":68,"v":9.3e-5},{"g":69,"v":7.9e-5},{"g":70,"v":8.9e-5},{"g":71,"v":5.6e-5},{"g":72,"v":8.9e-5},{"g":73,"v":1.07e-4},{"g":74,"v":1.23e-4},{"g":75,"v":1.7e-4},{"g":76,"v":1.7e-4},{"g":77,"v":1.45e-4},{"g":78,"v":9.3e-5},{"g":79,"v":8.1e-5},{"g":80,"v":8.7e-5}
],
"dL":[
{"g":0,"b":0.074,"m":3.0},{"g":1,"b":0.0083,"m":2.2},{"g":2,"b":0.0022,"m":1.9},{"g":4,"b":6.3e-4,"m":1.7},{"g":6,"b":5e-4,"m":2.1},{"g":8,"b":4e-4,"m":1.6},{"g":10,"b":2.8e-4,"m":1.95},{"g":12,"b":6.3e-5,"m":1.5},{"g":14,"b":2.5e-5,"m":2.2},{"g":16,"b":2.5e-5,"m":1.7},{"g":18,"b":5e-6,"m":2.0},{"g":20,"b":3.2e-6,"m":1.6},{"g":22,"b":2.5e-6,"m":1.9},{"g":24,"b":2e-6,"m":1.8},{"g":26,"b":2e-6,"m":2.1},{"g":28,"b":1.26e-7,"m":1.6},{"g":30,"b":1.26e-7,"m":1.95},{"g":32,"b":1.26e-7,"m":1.5},{"g":34,"b":1.26e-7,"m":2.2},{"g":36,"b":5.6e-9,"m":1.7},{"g":38,"b":5.6e-9,"m":1.9},{"g":40,"b":5.6e-9,"m":2.0},{"g":42,"b":5.6e-9,"m":1.75},{"g":44,"b":5.6e-9,"m":1.6},{"g":46,"b":5.6e-9,"m":2.05},{"g":48,"b":5.6e-9,"m":1.9},{"g":50,"b":5.6e-9,"m":1.65},{"g":52,"b":5.6e-9,"m":1.8},{"g":54,"b":5.6e-9,"m":1.55},{"g":56,"b":5.6e-9,"m":2.1},{"g":58,"b":5.6e-9,"m":1.85},{"g":60,"b":5.6e-9,"m":1.6},{"g":62,"b":5.6e-9,"m":2.0},{"g":64,"b":5.6e-9,"m":1.95},{"g":66,"b":5.6e-9,"m":1.7},{"g":68,"b":5.6e-9,"m":1.5},{"g":70,"b":5.6e-9,"m":1.85},{"g":72,"b":5.6e-9,"m":2.2},{"g":74,"b":5.6e-9,"m":1.75},{"g":76,"b":5.6e-9,"m":1.7},{"g":78,"b":5.6e-9,"m":1.95},{"g":80,"b":5.6e-9,"m":2.0},{"g":82,"b":5.6e-9,"m":1.55},{"g":84,"b":5.6e-9,"m":1.6},{"g":86,"b":5.6e-9,"m":2.05},{"g":88,"b":5.6e-9,"m":1.9},{"g":90,"b":5.6e-9,"m":1.7},{"g":92,"b":5.6e-9,"m":1.8},{"g":94,"b":5.6e-9,"m":1.6},{"g":96,"b":5.6e-9,"m":2.1},{"g":98,"b":5.6e-9,"m":1.85},{"g":100,"b":5.6e-9,"m":1.6},{"g":102,"b":5.6e-9,"m":1.9},{"g":104,"b":5.6e-9,"m":1.95},{"g":106,"b":5.6e-9,"m":1.7},{"g":108,"b":5.6e-9,"m":1.5},{"g":110,"b":5.6e-9,"m":1.8},{"g":112,"b":5.6e-9,"m":2.2},{"g":114,"b":5.6e-9,"m":1.65},{"g":116,"b":5.6e-9,"m":1.7},{"g":118,"b":5.6e-9,"m":1.95},{"g":120,"b":5.6e-9,"m":2.0},{"g":122,"b":5.6e-9,"m":1.6},{"g":124,"b":5.6e-9,"m":1.6},{"g":126,"b":5.6e-9,"m":2.0},{"g":128,"b":5.6e-9,"m":1.9},{"g":130,"b":5.6e-9,"m":1.7},{"g":132,"b":5.6e-9,"m":1.8},{"g":134,"b":5.6e-9,"m":1.55},{"g":136,"b":5.6e-9,"m":2.1},{"g":138,"b":5.6e-9,"m":1.85},{"g":140,"b":5.6e-9,"m":1.6},{"g":142,"b":5.6e-9,"m":1.9},{"g":144,"b":5.6e-9,"m":1.95},{"g":146,"b":5.6e-9,"m":1.7},{"g":148,"b":5.6e-9,"m":1.5},{"g":150,"b":5.6e-9,"m":1.8},{"g":152,"b":5.6e-9,"m":2.2},{"g":154,"b":5.6e-9,"m":1.7},{"g":156,"b":5.6e-9,"m":1.7},{"g":158,"b":5.6e-9,"m":1.95},{"g":160,"b":5.6e-9,"m":2.0},{"g":162,"b":5.6e-9,"m":1.55},{"g":164,"b":5.6e-9,"m":1.6},{"g":166,"b":5.6e-9,"m":2.05},{"g":168,"b":5.6e-9,"m":1.9},{"g":170,"b":5.6e-9,"m":1.65},{"g":172,"b":5.6e-9,"m":1.8},{"g":174,"b":5.6e-9,"m":1.6},{"g":176,"b":5.6e-9,"m":2.1},{"g":178,"b":5.6e-9,"m":1.85},{"g":180,"b":5.6e-9,"m":1.6},{"g":182,"b":5.6e-9,"m":1.8},{"g":184,"b":5.6e-9,"m":1.95},{"g":186,"b":5.6e-9,"m":1.7},{"g":188,"b":5.6e-9,"m":1.5},{"g":190,"b":5.6e-9,"m":1.8},{"g":192,"b":5.6e-9,"m":2.2},{"g":194,"b":3.5e-9,"m":1.6},{"g":196,"b":2.2e-9,"m":1.5},{"g":198,"b":2.2e-9,"m":1.4},{"g":200,"b":2.2e-9,"m":1.35},{"g":202,"b":2.2e-9,"m":1.3},{"g":204,"b":2.2e-9,"m":1.55},{"g":206,"b":2.2e-9,"m":1.4},{"g":208,"b":2.2e-9,"m":1.2},{"g":210,"b":2.2e-9,"m":1.35},{"g":212,"b":2.2e-9,"m":1.45},{"g":214,"b":2.2e-9,"m":1.25},{"g":216,"b":2.2e-9,"m":1.15},{"g":218,"b":2.2e-9,"m":1.4},{"g":220,"b":2.2e-9,"m":1.6},{"g":222,"b":2.2e-9,"m":1.35},{"g":224,"b":2.2e-9,"m":1.3},{"g":226,"b":2.2e-9,"m":1.45},{"g":228,"b":2.2e-9,"m":1.5},{"g":230,"b":2.2e-9,"m":1.25},{"g":232,"b":2.2e-9,"m":1.2},{"g":234,"b":2.2e-9,"m":1.45},{"g":236,"b":2.2e-9,"m":1.4},{"g":238,"b":2.2e-9,"m":1.3},{"g":240,"b":2.2e-9,"m":1.35},{"g":242,"b":2.2e-9,"m":1.5},{"g":244,"b":2.2e-9,"m":1.55},{"g":246,"b":2.2e-9,"m":1.3},{"g":248,"b":2.2e-9,"m":1.2},{"g":250,"b":2.2e-9,"m":1.4},{"g":252,"b":2.2e-9,"m":1.45},{"g":254,"b":2.2e-9,"m":1.25},{"g":256,"b":2.2e-9,"m":1.15},{"g":258,"b":2.2e-9,"m":1.4},{"g":260,"b":2.2e-9,"m":1.6},{"g":262,"b":2.2e-9,"m":1.35},{"g":264,"b":2.2e-9,"m":1.3},{"g":266,"b":2.2e-9,"m":1.45},{"g":268,"b":2.2e-9,"m":1.5},{"g":270,"b":2.2e-9,"m":1.25},{"g":272,"b":2.2e-9,"m":1.2},{"g":274,"b":2.2e-9,"m":1.45},{"g":276,"b":2.2e-9,"m":1.4},{"g":278,"b":2.2e-9,"m":1.3},{"g":280,"b":2.2e-9,"m":1.35},{"g":282,"b":2.2e-9,"m":1.5},{"g":284,"b":2.2e-9,"m":1.55},{"g":286,"b":2.2e-9,"m":1.3},{"g":288,"b":2.2e-9,"m":1.2},{"g":290,"b":2.2e-9,"m":1.4},{"g":292,"b":2.2e-9,"m":1.45},{"g":294,"b":2.2e-9,"m":1.25},{"g":296,"b":2.2e-9,"m":1.15},{"g":298,"b":2.2e-9,"m":1.4},{"g":300,"b":2.2e-9,"m":1.6},{"g":302,"b":2.2e-9,"m":1.35},{"g":304,"b":2.2e-9,"m":1.3},{"g":306,"b":2.2e-9,"m":1.45},{"g":308,"b":2.2e-9,"m":1.5},{"g":310,"b":2.2e-9,"m":1.25},{"g":312,"b":2.2e-9,"m":1.2},{"g":314,"b":2.2e-9,"m":1.45},{"g":316,"b":2.2e-9,"m":1.4},{"g":318,"b":2.2e-9,"m":1.3},{"g":320,"b":2.2e-9,"m":1.35},{"g":322,"b":2.2e-9,"m":1.5},{"g":324,"b":2.2e-9,"m":1.55},{"g":326,"b":2.2e-9,"m":1.3},{"g":328,"b":2.2e-9,"m":1.2},{"g":330,"b":2.2e-9,"m":1.4},{"g":332,"b":2.2e-9,"m":1.45},{"g":334,"b":2.2e-9,"m":1.25},{"g":336,"b":2.2e-9,"m":1.15},{"g":338,"b":2.2e-9,"m":1.3},{"g":340,"b":2.2e-9,"m":1.5},{"g":342,"b":2.2e-9,"m":1.2},{"g":344,"b":2.2e-9,"m":1.2},{"g":346,"b":2.2e-9,"m":1.35},{"g":348,"b":2.2e-9,"m":1.3},{"g":350,"b":2.2e-9,"m":1.1},{"g":352,"b":2.2e-9,"m":0.95},{"g":354,"b":2.2e-9,"m":1.05},{"g":356,"b":2.2e-9,"m":1.1},{"g":358,"b":2.2e-9,"m":0.9},{"g":360,"b":2.2e-9,"m":0.84},{"g":362,"b":2.2e-9,"m":1.0},{"g":364,"b":2.2e-9,"m":1.03},{"g":366,"b":2.2e-9,"m":0.88},{"g":368,"b":2.2e-9,"m":0.8},{"g":370,"b":2.2e-9,"m":0.29},{"g":372,"b":2.2e-9,"m":1.15},{"g":374,"b":2.2e-9,"m":0.95},{"g":376,"b":2.2e-9,"m":0.9},{"g":378,"b":2.2e-9,"m":1.0},{"g":380,"b":2.2e-9,"m":1.05},{"g":382,"b":2.2e-9,"m":0.9},{"g":384,"b":2.2e-9,"m":0.85},{"g":386,"b":2.2e-9,"m":0.95},{"g":388,"b":2.2e-9,"m":1.0},{"g":390,"b":2.2e-9,"m":0.85},{"g":392,"b":2.2e-9,"m":0.95},{"g":394,"b":2.2e-9,"m":1.0},{"g":396,"b":2.2e-9,"m":1.1},{"g":398,"b":2.2e-9,"m":0.88},{"g":400,"b":2.2e-9,"m":0.84},{"g":402,"b":2.2e-9,"m":0.95},{"g":404,"b":2.2e-9,"m":1.03},{"g":406,"b":2.2e-9,"m":0.85},{"g":408,"b":2.2e-9,"m":0.8},{"g":410,"b":2.2e-9,"m":0.9},{"g":412,"b":2.2e-9,"m":1.15},{"g":414,"b":2.2e-9,"m":0.75},{"g":416,"b":2.2e-9,"m":0.9},{"g":418,"b":2.2e-9,"m":0.7},{"g":420,"b":2.2e-9,"m":0.6},{"g":422,"b":2.2e-9,"m":0.66},{"g":424,"b":2.2e-9,"m":0.69},{"g":426,"b":2.2e-9,"m":0.58},{"g":428,"b":2.2e-9,"m":0.53},{"g":430,"b":2.2e-9,"m":0.6},{"g":432,"b":2.2e-9,"m":0.65},{"g":434,"b":2.2e-9,"m":0.55},{"g":436,"b":2.2e-9,"m":0.51},{"g":438,"b":1e-9,"m":0.62},{"g":440,"b":3.3e-10,"m":0.72},{"g":442,"b":3.3e-10,"m":0.6},{"g":444,"b":3.3e-10,"m":0.57},{"g":446,"b":3.3e-10,"m":0.62},{"g":448,"b":3.3e-10,"m":0.66},{"g":450,"b":3.3e-10,"m":0.56},{"g":452,"b":3.3e-10,"m":0.54},{"g":454,"b":3.3e-10,"m":0.6},{"g":456,"b":3.3e-10,"m":0.63},{"g":458,"b":3.3e-10,"m":0.52},{"g":460,"b":3.3e-10,"m":0.5},{"g":462,"b":3.3e-10,"m":0.45},{"g":464,"b":3.3e-10,"m":0.42},{"g":466,"b":3.3e-10,"m":0.4},{"g":468,"b":3.3e-10,"m":0.38},{"g":470,"b":3.3e-10,"m":0.35},{"g":472,"b":3.3e-10,"m":0.32},{"g":474,"b":3.3e-10,"m":0.3},{"g":476,"b":3.3e-10,"m":0.28},{"g":478,"b":3.3e-10,"m":0.24},{"g":480,"b":3.3e-10,"m":0.2},{"g":482,"b":3.3e-10,"m":0.18},{"g":484,"b":3.3e-10,"m":0.15},{"g":486,"b":3.3e-10,"m":0.12},{"g":488,"b":3.3e-10,"m":0.1},{"g":490,"b":3.3e-10,"m":0.063},{"g":492,"b":3.3e-10,"m":0.05},{"g":494,"b":3.3e-10,"m":0.04},{"g":496,"b":3.3e-10,"m":0.023},{"g":498,"b":3.3e-10,"m":0.012},{"g":500,"b":3.3e-10,"m":0.0031}
],
"dR":[
{"g":1,"v":9.5},{"g":2,"v":8.1},{"g":4,"v":3.5},{"g":7,"v":6.2},{"g":10,"v":2.5},{"g":13,"v":4.4},{"g":16,"v":1.75},{"g":19,"v":5.5},{"g":22,"v":3.1},{"g":25,"v":7},{"g":28,"v":2.2},{"g":31,"v":3.9},{"g":34,"v":2},{"g":37,"v":4.9},{"g":40,"v":2.8},{"g":43,"v":6.7},{"g":46,"v":1.6},{"g":49,"v":4.2},{"g":52,"v":3.8},{"g":55,"v":2.0},{"g":58,"v":5.8},{"g":61,"v":2.7},{"g":64,"v":7.2},{"g":67,"v":2.3},{"g":70,"v":4.6},{"g":73,"v":1.7},{"g":76,"v":5.2},{"g":79,"v":1.5},{"g":82,"v":6.5},{"g":85,"v":2.1},{"g":88,"v":1.45},{"g":91,"v":2.6},{"g":94,"v":5.0},{"g":97,"v":7.0},{"g":100,"v":6.8},
{"g":103,"v":3.2},{"g":106,"v":5.7},{"g":109,"v":2.3},{"g":112,"v":0.95},{"g":115,"v":4},{"g":118,"v":1.6},{"g":121,"v":5},{"g":124,"v":2.8},{"g":127,"v":6.4},{"g":130,"v":2},{"g":133,"v":3.6},{"g":136,"v":1.8},{"g":139,"v":4.5},{"g":142,"v":2.5},{"g":145,"v":6.1},{"g":148,"v":1.45},{"g":151,"v":3.8},{"g":154,"v":3.5},{"g":157,"v":1.9},{"g":160,"v":5.2},{"g":163,"v":2.4},{"g":166,"v":6.6},{"g":169,"v":2.1},{"g":172,"v":4.2},{"g":175,"v":1.5},{"g":178,"v":4.8},{"g":181,"v":2.7},{"g":184,"v":5.9},{"g":187,"v":1.9},{"g":190,"v":1.25},{"g":193,"v":2.2},{"g":196,"v":4.6},{"g":199,"v":1.7},{"g":202,"v":3.0},{"g":205,"v":5.4},{"g":208,"v":2.6},{"g":211,"v":4.3},{"g":214,"v":1.7},{"g":217,"v":1.2},{"g":220,"v":6.9},{"g":223,"v":2.9},{"g":226,"v":6.0},{"g":229,"v":2.0},{"g":232,"v":3.9},{"g":235,"v":1.6},{"g":238,"v":4.7},{"g":241,"v":2.3},{"g":244,"v":5.0},{"g":247,"v":1.5},{"g":250,"v":3.6},
{"g":253,"v":2.2},{"g":256,"v":3.9},{"g":259,"v":1.6},{"g":262,"v":2.8},{"g":265,"v":0.95},{"g":268,"v":0.78},{"g":271,"v":3.5},{"g":274,"v":2},{"g":277,"v":4.4},{"g":280,"v":1.4},{"g":283,"v":2.5},{"g":286,"v":1.2},{"g":289,"v":3.1},{"g":292,"v":1.7},{"g":295,"v":4.2},{"g":298,"v":1},{"g":301,"v":2.6},{"g":304,"v":2.4},{"g":307,"v":1.3},{"g":310,"v":3.6},{"g":313,"v":1.8},{"g":316,"v":4.0},{"g":319,"v":1.5},{"g":322,"v":2.9},{"g":325,"v":1.1},{"g":328,"v":3.3},
{"g":331,"v":1.4},{"g":334,"v":3.4},{"g":337,"v":1.0},{"g":340,"v":1.8},{"g":343,"v":0.7},{"g":346,"v":2.2},{"g":349,"v":1.25},{"g":352,"v":2.8},{"g":355,"v":0.88},{"g":358,"v":1.6},{"g":361,"v":0.78},{"g":364,"v":2.0},{"g":367,"v":1.1},{"g":370,"v":2.7},{"g":373,"v":0.63},{"g":376,"v":1.7},{"g":379,"v":1.3},{"g":382,"v":0.75},{"g":385,"v":2.1},{"g":388,"v":1.0},{"g":391,"v":2.4},{"g":394,"v":0.85},{"g":397,"v":1.9},{"g":400,"v":1.2},
{"g":403,"v":0.8},{"g":406,"v":1.4},{"g":409,"v":0.57},{"g":412,"v":1.0},{"g":415,"v":1.6},{"g":418,"v":0.4},{"g":421,"v":1.26},{"g":424,"v":0.71},{"g":427,"v":0.5},{"g":430,"v":0.9},{"g":433,"v":0.45},{"g":436,"v":1.13},{"g":439,"v":1.4},{"g":442,"v":0.63},{"g":445,"v":0.36},{"g":448,"v":0.96},
{"g":451,"v":0.4},{"g":454,"v":0.71},{"g":457,"v":0.28},{"g":460,"v":0.5},{"g":463,"v":0.2},{"g":466,"v":0.11},{"g":469,"v":0.63},{"g":472,"v":0.36},{"g":475,"v":0.25},{"g":478,"v":0.11},{"g":480,"v":0.3},{"g":482,"v":0.2},{"g":484,"v":0.25},{"g":486,"v":0.15},{"g":488,"v":0.18},{"g":489,"v":0.12},{"g":490,"v":0.1},{"g":491,"v":0.08},{"g":492,"v":0.09},{"g":493,"v":0.06},{"g":494,"v":0.07},{"g":495,"v":0.05},{"g":496,"v":0.032},{"g":497,"v":0.028},{"g":498,"v":0.015},{"g":499,"v":0.022},{"g":500,"v":0.0063},
{"g":6,"v":4.55},{"g":9,"v":2.6},{"g":12,"v":5.6},{"g":15,"v":3.15},{"g":18,"v":7.35},{"g":21,"v":2.1},{"g":24,"v":4.0},{"g":27,"v":5.1},{"g":30,"v":2.4},{"g":33,"v":6.5},{"g":36,"v":2.9},{"g":39,"v":4.4},{"g":42,"v":1.9},{"g":45,"v":6.0},{"g":48,"v":3.3},{"g":51,"v":3.85},{"g":54,"v":4.3},{"g":57,"v":2.7},{"g":60,"v":5.3},{"g":63,"v":3.0},{"g":66,"v":7.0},{"g":69,"v":2.2},{"g":72,"v":3.8},{"g":75,"v":4.9},{"g":78,"v":2.5},{"g":81,"v":6.2},{"g":84,"v":3.0},{"g":87,"v":4.2},{"g":90,"v":2.0},{"g":93,"v":5.7},{"g":96,"v":3.4},{"g":99,"v":3.6},
{"g":105,"v":4.2},{"g":108,"v":2.4},{"g":111,"v":5.1},{"g":114,"v":2.9},{"g":117,"v":6.7},{"g":120,"v":1.9},{"g":123,"v":3.7},{"g":126,"v":4.6},{"g":129,"v":2.2},{"g":132,"v":5.9},{"g":135,"v":2.6},{"g":138,"v":4.0},{"g":141,"v":1.8},{"g":144,"v":5.4},{"g":147,"v":3.0},{"g":150,"v":3.5},{"g":153,"v":4.0},{"g":156,"v":2.5},{"g":159,"v":4.9},{"g":162,"v":2.8},{"g":165,"v":6.4},{"g":168,"v":2.0},{"g":171,"v":3.6},{"g":174,"v":4.4},{"g":177,"v":2.3},{"g":180,"v":5.7},{"g":183,"v":2.7},{"g":186,"v":3.8},{"g":189,"v":1.9},{"g":192,"v":5.2},{"g":195,"v":3.1},{"g":198,"v":3.4},{"g":201,"v":4.3},{"g":204,"v":2.3},{"g":207,"v":5.0},{"g":210,"v":3.0},{"g":213,"v":6.2},{"g":216,"v":2.1},{"g":219,"v":3.5},{"g":222,"v":4.5},{"g":225,"v":2.4},{"g":228,"v":5.5},{"g":231,"v":2.8},{"g":234,"v":3.9},{"g":237,"v":2.0},{"g":240,"v":5.0},{"g":243,"v":3.2},{"g":246,"v":3.3},{"g":249,"v":4.1},
{"g":255,"v":2.9},{"g":258,"v":1.65},{"g":261,"v":3.5},{"g":264,"v":2.0},{"g":267,"v":4.6},{"g":270,"v":1.3},{"g":273,"v":2.5},{"g":276,"v":3.2},{"g":279,"v":1.5},{"g":282,"v":4.1},{"g":285,"v":1.8},{"g":288,"v":2.75},{"g":291,"v":1.2},{"g":294,"v":3.7},{"g":297,"v":2.1},{"g":300,"v":2.4},{"g":303,"v":2.7},{"g":306,"v":1.55},{"g":309,"v":3.3},{"g":312,"v":1.9},{"g":315,"v":4.3},{"g":318,"v":1.35},{"g":321,"v":2.45},{"g":324,"v":3.0},{"g":327,"v":1.6},
{"g":333,"v":1.8},{"g":336,"v":1.05},{"g":339,"v":2.25},{"g":342,"v":1.25},{"g":345,"v":2.95},{"g":348,"v":0.84},{"g":351,"v":1.6},{"g":354,"v":2.0},{"g":357,"v":0.95},{"g":360,"v":2.6},{"g":363,"v":1.15},{"g":366,"v":1.75},{"g":369,"v":0.77},{"g":372,"v":2.4},{"g":375,"v":1.3},{"g":378,"v":1.55},{"g":381,"v":1.7},{"g":384,"v":1.0},{"g":387,"v":2.1},{"g":390,"v":1.2},{"g":393,"v":2.7},{"g":396,"v":0.9},{"g":399,"v":1.5},
{"g":405,"v":1.04},{"g":408,"v":0.6},{"g":411,"v":1.28},{"g":414,"v":0.72},{"g":417,"v":1.68},{"g":420,"v":0.48},{"g":423,"v":0.92},{"g":426,"v":1.16},{"g":429,"v":0.54},{"g":432,"v":1.48},{"g":435,"v":0.66},{"g":438,"v":1.0},{"g":441,"v":0.44},{"g":444,"v":1.36},{"g":447,"v":0.76},
{"g":453,"v":0.52},{"g":456,"v":0.3},{"g":459,"v":0.64},{"g":462,"v":0.36},{"g":465,"v":0.84},{"g":468,"v":0.24},{"g":471,"v":0.46},{"g":474,"v":0.58},{"g":477,"v":0.27}
]
},
"concat":[
 {"width":355,"height":271,
  "title":{"text":"(a)","anchor":"start","font":"Liberation Serif","fontWeight":"bold","fontSize":25,"offset":-25},
  "data":{"name":"aL"},"transform":[{"fold":["b","m"],"as":["s","v"]}],
  "resolve":{"axis":{"x":"independent"}},
  "layer":[
   {"mark":{"type":"point","shape":"diamond","filled":true,"size":60,"opacity":1,"strokeWidth":1},
    "encoding":{
     "x":{"field":"g","type":"quantitative","scale":{"domain":[0,400],"nice":false,"zero":false},"axis":{"values":[0,100,200,300,400],"title":"Generation","titlePadding":13}},
     "y":{"field":"v","type":"quantitative","scale":{"type":"log","domain":[1e-20,1e10],"nice":false},"axis":{"values":[1e-20,1e-10,1,1e10],"labelPadding":59,"titlePadding":19,"title":"Fitness value","labelExpr":"datum.value > 1e5 ? '10¹⁰' : datum.value > 1e-5 ? '10⁰' : datum.value > 1e-15 ? '10⁻¹⁰' : '10⁻²⁰'"}},
     "color":{"field":"s","type":"nominal","scale":{"domain":["b","m"],"range":["#000000","#0000ff"]},"legend":{"title":null,"orient":"none","legendX":142,"legendY":13,"labelExpr":"datum.label == 'b' ? 'Best fitness' : 'Mean fitness'"}},
     "stroke":{"field":"s","type":"nominal","scale":{"domain":["b","m"],"range":["#000000","#0000ff"]},"legend":null}}},
   {"mark":{"type":"point","opacity":0},
    "encoding":{
     "x":{"field":"g","type":"quantitative","scale":{"domain":[0,400],"nice":false,"zero":false},"axis":{"orient":"top","title":"Best: 0 Mean: 0.00022215","labels":false,"ticks":false,"domain":false,"titleFontSize":22,"titlePadding":13}}}}
  ]},
 {"width":358,"height":271,"title":{"text":"Average Distance Between Individuals","fontSize":21.5,"offset":12},"data":{"name":"aR"},
  "mark":{"type":"point","shape":"diamond","filled":true,"size":60,"opacity":1,"color":"#0000ff","stroke":"#0000ff","strokeWidth":1},
  "encoding":{
   "x":{"field":"g","type":"quantitative","scale":{"domain":[3,400],"nice":false,"zero":false},"axis":{"values":[100,200,300,400],"title":"Generation","titlePadding":10}},
   "y":{"field":"v","type":"quantitative","scale":{"type":"log","domain":[1e-5,55],"nice":false},"axis":{"values":[1e-5,1],"labelPadding":50,"titlePadding":13,"title":"Avergae Distance","labelExpr":"datum.value > 0.01 ? '10⁰' : '10⁻⁵'"}}}},
 {"width":362,"height":268,
  "title":{"text":"(b)","anchor":"start","font":"Liberation Serif","fontWeight":"bold","fontSize":25,"offset":-25},
  "data":{"name":"bL"},"transform":[{"fold":["b","m"],"as":["s","v"]}],
  "resolve":{"axis":{"x":"independent"}},
  "layer":[
   {"mark":{"type":"point","shape":"diamond","filled":true,"size":60,"opacity":1,"strokeWidth":1},
    "encoding":{
     "x":{"field":"g","type":"quantitative","scale":{"domain":[0,500],"nice":false,"zero":false},"axis":{"values":[0,100,200,300,400,500],"title":"Generation","titlePadding":10}},
     "y":{"field":"v","type":"quantitative","scale":{"type":"log","domain":[1e-20,1e10],"nice":false},"axis":{"values":[1e-20,1e-10,1,1e10],"labelPadding":59,"titlePadding":19,"title":"Fitness value","labelExpr":"datum.value > 1e5 ? '10¹⁰' : datum.value > 1e-5 ? '10⁰' : datum.value > 1e-15 ? '10⁻¹⁰' : '10⁻²⁰'"}},
     "color":{"field":"s","type":"nominal","scale":{"domain":["b","m"],"range":["#000000","#0000ff"]},"legend":{"title":null,"orient":"none","legendX":145,"legendY":6,"labelExpr":"datum.label == 'b' ? 'Best fitness' : 'Mean fitness'"}},
     "stroke":{"field":"s","type":"nominal","scale":{"domain":["b","m"],"range":["#000000","#0000ff"]},"legend":null}}},
   {"mark":{"type":"point","opacity":0},
    "encoding":{
     "x":{"field":"g","type":"quantitative","scale":{"domain":[0,500],"nice":false,"zero":false},"axis":{"orient":"top","title":"Best: 7.30249e-14 Mean: 0.00133902","labels":false,"ticks":false,"domain":false,"titleFontSize":22,"titlePadding":19}}}}
  ]},
 {"width":350,"height":268,"title":{"text":"Average Distance Between Individuals","fontSize":21.5,"offset":15},"data":{"name":"bR"},
  "mark":{"type":"point","shape":"diamond","filled":true,"size":60,"opacity":1,"color":"#0000ff","stroke":"#0000ff","strokeWidth":1},
  "encoding":{
   "x":{"field":"g","type":"quantitative","scale":{"domain":[2.5,500],"nice":false,"zero":false},"axis":{"values":[100,200,300,400,500],"title":"Generation","titlePadding":9}},
   "y":{"field":"v","type":"quantitative","scale":{"type":"log","domain":[1e-5,52],"nice":false},"axis":{"values":[1e-5,1],"labelPadding":50,"titlePadding":13,"title":"Avergae Distance","labelExpr":"datum.value > 0.01 ? '10⁰' : '10⁻⁵'"}}}},
 {"width":355,"height":266,
  "title":{"text":"(c)","anchor":"start","font":"Liberation Serif","fontWeight":"bold","fontSize":25,"offset":-28},
  "data":{"name":"cL"},"transform":[{"fold":["b","m"],"as":["s","v"]}],
  "resolve":{"axis":{"x":"independent"}},
  "layer":[
   {"mark":{"type":"point","shape":"diamond","filled":true,"size":60,"opacity":1,"strokeWidth":1},
    "encoding":{
     "x":{"field":"g","type":"quantitative","scale":{"domain":[0,100],"nice":false,"zero":false},"axis":{"values":[0,50,100],"title":"Generation","titlePadding":8}},
     "y":{"field":"v","type":"quantitative","scale":{"type":"log","domain":[1e-20,1e10],"nice":false},"axis":{"values":[1e-20,1e-10,1,1e10],"labelPadding":59,"titlePadding":19,"title":"Fitness value","labelExpr":"datum.value > 1e5 ? '10¹⁰' : datum.value > 1e-5 ? '10⁰' : datum.value > 1e-15 ? '10⁻¹⁰' : '10⁻²⁰'"}},
     "color":{"field":"s","type":"nominal","scale":{"domain":["b","m"],"range":["#000000","#0000ff"]},"legend":{"title":null,"orient":"none","legendX":140,"legendY":7,"labelExpr":"datum.label == 'b' ? 'Best fitness' : 'Mean fitness'"}},
     "stroke":{"field":"s","type":"nominal","scale":{"domain":["b","m"],"range":["#000000","#0000ff"]},"legend":null}}},
   {"mark":{"type":"point","opacity":0},
    "encoding":{
     "x":{"field":"g","type":"quantitative","scale":{"domain":[0,100],"nice":false,"zero":false},"axis":{"orient":"top","title":"Best: 0 Mean: 8.90644e-06","labels":false,"ticks":false,"domain":false,"titleFontSize":22,"titlePadding":16}}}}
  ]},
 {"width":354,"height":266,"title":{"text":"Average Distance Between Individuals","fontSize":21.5,"offset":9},"data":{"name":"cR"},
  "mark":{"type":"point","shape":"diamond","filled":true,"size":60,"opacity":1,"color":"#0000ff","stroke":"#0000ff","strokeWidth":1},
  "encoding":{
   "x":{"field":"g","type":"quantitative","scale":{"domain":[1.3,100],"nice":false,"zero":false},"axis":{"values":[20,40,60,80,100],"title":"Generation","titlePadding":11}},
   "y":{"field":"v","type":"quantitative","scale":{"type":"log","domain":[1e-5,10],"nice":false},"axis":{"values":[1e-5,1],"labelPadding":50,"titlePadding":13,"title":"Avergae Distance","labelExpr":"datum.value > 0.01 ? '10⁰' : '10⁻⁵'"}}}},
 {"width":354,"height":272,
  "title":{"text":"(d)","anchor":"start","font":"Liberation Serif","fontWeight":"bold","fontSize":25,"offset":-28},
  "data":{"name":"dL"},"transform":[{"fold":["b","m"],"as":["s","v"]}],
  "resolve":{"axis":{"x":"independent"}},
  "layer":[
   {"mark":{"type":"point","shape":"diamond","filled":true,"size":60,"opacity":1,"strokeWidth":1},
    "encoding":{
     "x":{"field":"g","type":"quantitative","scale":{"domain":[0,500],"nice":false,"zero":false},"axis":{"values":[0,100,200,300,400,500],"title":"Generation","titlePadding":7}},
     "y":{"field":"v","type":"quantitative","scale":{"type":"log","domain":[1e-10,100],"nice":false},"axis":{"values":[1e-10,1e-5,1],"labelPadding":59,"titlePadding":19,"title":"Fitness value","labelExpr":"datum.value > 0.1 ? '10⁰' : datum.value > 1e-7 ? '10⁻⁵' : '10⁻¹⁰'"}},
     "color":{"field":"s","type":"nominal","scale":{"domain":["b","m"],"range":["#000000","#0000ff"]},"legend":{"title":null,"orient":"none","legendX":117,"legendY":109,"labelExpr":"datum.label == 'b' ? 'Best fitness' : 'Mean fitness'"}},
     "stroke":{"field":"s","type":"nominal","scale":{"domain":["b","m"],"range":["#000000","#0000ff"]},"legend":null}}},
   {"mark":{"type":"point","opacity":0},
    "encoding":{
     "x":{"field":"g","type":"quantitative","scale":{"domain":[0,500],"nice":false,"zero":false},"axis":{"orient":"top","title":"Best: 3.29232e-10 Mean: 0.00308646","labels":false,"ticks":false,"domain":false,"titleFontSize":22,"titlePadding":12}}}}
  ]},
 {"width":354,"height":272,"title":{"text":"Average Distance Between Individuals","fontSize":21.5,"offset":12},"data":{"name":"dR"},
  "mark":{"type":"point","shape":"diamond","filled":true,"size":60,"opacity":1,"color":"#0000ff","stroke":"#0000ff","strokeWidth":1},
  "encoding":{
   "x":{"field":"g","type":"quantitative","scale":{"domain":[1.4,500],"nice":false,"zero":false},"axis":{"values":[100,200,300,400,500],"title":"Generation","titlePadding":10}},
   "y":{"field":"v","type":"quantitative","scale":{"type":"log","domain":[0.00093,10.7],"nice":false},"axis":{"values":[0.01,1],"labelPadding":50,"titlePadding":13,"title":"Avergae Distance","labelExpr":"datum.value > 0.1 ? '10⁰' : '10⁻²'"}}}}
],
"config":{
 "view":{"stroke":null},
 "font":"Liberation Sans",
 "title":{"fontSize":22,"fontWeight":"normal","color":"#000000","font":"Liberation Sans"},
 "axis":{"grid":false,"domainColor":"#000000","domainWidth":1.3,"tickColor":"#000000","tickWidth":1.2,"tickSize":-5,"labelColor":"#000000","titleColor":"#000000","labelFontSize":21,"titleFontSize":24,"titleFontWeight":"normal","labelFont":"Liberation Sans","titleFont":"Liberation Sans","labelOverlap":false,"labelFlush":false},
 "axisX":{"labelPadding":14},
 "axisY":{"labelAlign":"left","labelBaseline":"middle"},
 "legend":{"strokeColor":"#000000","fillColor":"#ffffff","padding":10,"symbolType":"diamond","symbolSize":50,"symbolOffset":28,"labelOffset":30,"labelFontSize":19,"labelFont":"Liberation Sans","labelColor":"#000000","rowPadding":9,"symbolStrokeWidth":0}
}
}
